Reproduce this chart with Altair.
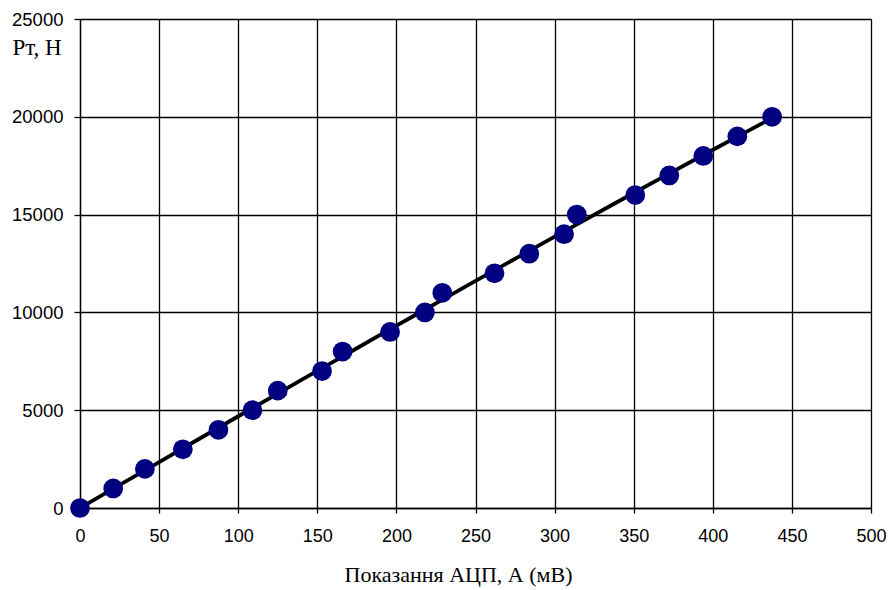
import altair as alt
import pandas as pd

# ADC readings (mV) and corresponding force (N)
adc = [0, 21, 41, 65, 87.5, 109, 125, 153, 166, 196, 218, 229,
       262, 284, 306, 314, 351, 372.5, 394, 415.5, 437.5]
force = [0, 1000, 2000, 3000, 4000, 5000, 6000, 7000, 8000, 9000, 10000,
         11000, 12000, 13000, 14000, 15000, 16000, 17000, 18000, 19000, 20000]
x_ticks = [0, 50, 100, 150, 200, 250, 300, 350, 400, 450, 500]
y_ticks = [0, 5000, 10000, 15000, 20000, 25000]

df = pd.DataFrame({"adc": adc, "force": force})

common_axis = dict(
    grid=True, gridColor="#000000", gridWidth=1.3, gridOpacity=1,
    domainColor="#000000", domainWidth=1.3,
    tickColor="#000000", tickWidth=1.3,
    labelFont="Liberation Sans", labelColor="#000000", labelFlush=False,
    titleColor="#000000",
)

x_enc = alt.X(
    "adc:Q",
    scale=alt.Scale(domain=[0, 500], nice=False, zero=False),
    axis=alt.Axis(
        values=x_ticks, title="Показання АЦП, А (мВ)",
        labelFontSize=18, tickSize=5, labelPadding=14,
        titleFont="Liberation Serif", titleFontSize=22, titleFontWeight="normal",
        titleX=378, titleY=66, titleAlign="center", titleBaseline="middle",
        **common_axis,
    ),
)
y_enc = alt.Y(
    "force:Q",
    scale=alt.Scale(domain=[0, 25000], nice=False),
    axis=alt.Axis(
        values=y_ticks, format="d", title="Pт, Н",
        labelFontSize=18.5, tickSize=6, labelPadding=11,
        titleAngle=0, titleAlign="left", titleBaseline="middle",
        titleX=-68, titleY=28,
        titleFont="Liberation Serif", titleFontSize=23, titleFontWeight="normal",
        **common_axis,
    ),
)

base = alt.Chart(df)

line = base.transform_regression(
    "adc", "force", method="poly", order=3
).mark_line(color="black", strokeWidth=3.8).encode(x=x_enc, y=y_enc)

points = base.mark_circle(size=390, color="#000080", opacity=1).encode(x=x_enc, y=y_enc)

chart = (
    alt.layer(line, points)
    .properties(
        width=791, height=489,
        autosize=alt.AutoSizeParams(type="none"),
        padding={"left": 72, "top": 11, "right": 17, "bottom": 80},
    )
    .configure_view(stroke="black", strokeWidth=1.3)
    .configure(background="white")
)

chart.save("out.html", embed_options={"renderer": "svg", "actions": False})
